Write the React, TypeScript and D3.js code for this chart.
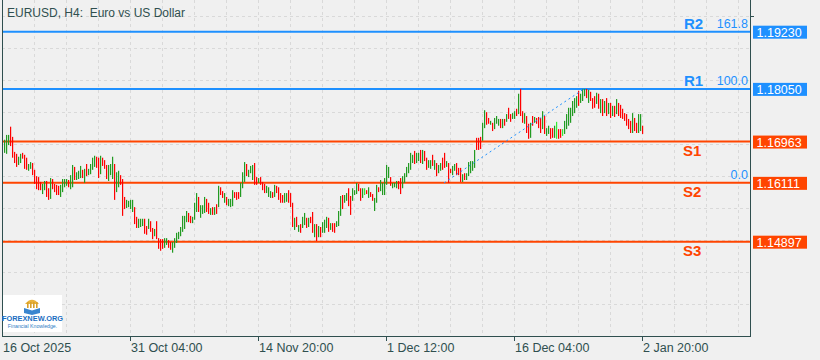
import React from 'react';
import * as d3 from 'd3';

// ---- data (EURUSD H4) ----
const highs = [
  1.1700, 1.1710, 1.1710, 1.1727, 1.1706, 1.1675, 1.1671, 1.1665, 1.1671, 1.1673,
  1.1669, 1.1663, 1.1650, 1.1654, 1.1652, 1.1638, 1.1625, 1.1623, 1.1613, 1.1609,
  1.1615, 1.1615, 1.1600, 1.1621, 1.1619, 1.1609, 1.1607, 1.1605, 1.1607, 1.1619,
  1.1619, 1.1619, 1.1617, 1.1627, 1.1648, 1.1644, 1.1633, 1.1636, 1.1646, 1.1638,
  1.1640, 1.1650, 1.1640, 1.1650, 1.1663, 1.1667, 1.1665, 1.1663, 1.1667, 1.1663,
  1.1658, 1.1648, 1.1648, 1.1650, 1.1665, 1.1650, 1.1633, 1.1636, 1.1627, 1.1619,
  1.1582, 1.1576, 1.1574, 1.1576, 1.1576, 1.1561, 1.1541, 1.1537, 1.1537, 1.1537,
  1.1537, 1.1522, 1.1537, 1.1532, 1.1518, 1.1516, 1.1532, 1.1497, 1.1495, 1.1495,
  1.1497, 1.1497, 1.1493, 1.1489, 1.1489, 1.1497, 1.1508, 1.1510, 1.1520, 1.1543,
  1.1543, 1.1553, 1.1549, 1.1543, 1.1541, 1.1570, 1.1590, 1.1582, 1.1565, 1.1565,
  1.1582, 1.1578, 1.1570, 1.1559, 1.1561, 1.1561, 1.1567, 1.1605, 1.1602, 1.1594,
  1.1590, 1.1582, 1.1578, 1.1578, 1.1596, 1.1592, 1.1592, 1.1592, 1.1611, 1.1633,
  1.1654, 1.1650, 1.1638, 1.1646, 1.1648, 1.1652, 1.1623, 1.1621, 1.1623, 1.1613,
  1.1609, 1.1605, 1.1602, 1.1594, 1.1592, 1.1607, 1.1605, 1.1602, 1.1590, 1.1586,
  1.1590, 1.1590, 1.1596, 1.1590, 1.1570, 1.1539, 1.1541, 1.1524, 1.1526, 1.1541,
  1.1549, 1.1539, 1.1539, 1.1541, 1.1551, 1.1526, 1.1526, 1.1522, 1.1520, 1.1530,
  1.1535, 1.1541, 1.1539, 1.1528, 1.1528, 1.1528, 1.1532, 1.1553, 1.1584, 1.1586,
  1.1586, 1.1590, 1.1600, 1.1584, 1.1600, 1.1596, 1.1611, 1.1609, 1.1600, 1.1600,
  1.1600, 1.1596, 1.1602, 1.1592, 1.1588, 1.1580, 1.1607, 1.1602, 1.1617, 1.1611,
  1.1621, 1.1648, 1.1644, 1.1623, 1.1611, 1.1611, 1.1615, 1.1615, 1.1621, 1.1625,
  1.1631, 1.1644, 1.1652, 1.1673, 1.1669, 1.1677, 1.1673, 1.1673, 1.1679, 1.1679,
  1.1677, 1.1663, 1.1658, 1.1658, 1.1669, 1.1658, 1.1652, 1.1648, 1.1652, 1.1663,
  1.1673, 1.1656, 1.1652, 1.1640, 1.1646, 1.1650, 1.1652, 1.1642, 1.1642, 1.1629,
  1.1631, 1.1631, 1.1654, 1.1656, 1.1656, 1.1679, 1.1704, 1.1704, 1.1706, 1.1735,
  1.1761, 1.1757, 1.1745, 1.1739, 1.1735, 1.1745, 1.1749, 1.1743, 1.1743, 1.1743,
  1.1743, 1.1753, 1.1766, 1.1753, 1.1755, 1.1759, 1.1764, 1.1795, 1.1805, 1.1759,
  1.1755, 1.1749, 1.1733, 1.1735, 1.1749, 1.1747, 1.1745, 1.1747, 1.1745, 1.1759,
  1.1749, 1.1724, 1.1729, 1.1724, 1.1724, 1.1729, 1.1737, 1.1722, 1.1722, 1.1722,
  1.1739, 1.1753, 1.1766, 1.1766, 1.1780, 1.1786, 1.1790, 1.1801, 1.1795, 1.1805,
  1.1805, 1.1805, 1.1803, 1.1799, 1.1786, 1.1790, 1.1797, 1.1795, 1.1784, 1.1784,
  1.1780, 1.1786, 1.1776, 1.1776, 1.1770, 1.1770, 1.1784, 1.1776, 1.1772, 1.1764,
  1.1755, 1.1753, 1.1743, 1.1739, 1.1755, 1.1745, 1.1735, 1.1753, 1.1753, 1.1729,
];

const lows = [
  1.1673, 1.1671, 1.1689, 1.1687, 1.1663, 1.1652, 1.1644, 1.1648, 1.1652, 1.1661,
  1.1640, 1.1638, 1.1636, 1.1640, 1.1627, 1.1609, 1.1598, 1.1596, 1.1596, 1.1588,
  1.1596, 1.1582, 1.1576, 1.1578, 1.1598, 1.1592, 1.1586, 1.1586, 1.1582, 1.1592,
  1.1602, 1.1605, 1.1602, 1.1598, 1.1602, 1.1617, 1.1617, 1.1619, 1.1621, 1.1621,
  1.1611, 1.1625, 1.1627, 1.1629, 1.1638, 1.1644, 1.1642, 1.1621, 1.1629, 1.1646,
  1.1640, 1.1619, 1.1615, 1.1627, 1.1619, 1.1576, 1.1592, 1.1602, 1.1607, 1.1543,
  1.1557, 1.1559, 1.1561, 1.1557, 1.1551, 1.1526, 1.1518, 1.1518, 1.1520, 1.1522,
  1.1506, 1.1504, 1.1516, 1.1510, 1.1495, 1.1501, 1.1495, 1.1475, 1.1471, 1.1475,
  1.1477, 1.1483, 1.1477, 1.1473, 1.1467, 1.1477, 1.1487, 1.1495, 1.1501, 1.1510,
  1.1516, 1.1530, 1.1530, 1.1528, 1.1528, 1.1535, 1.1551, 1.1551, 1.1539, 1.1547,
  1.1549, 1.1551, 1.1547, 1.1545, 1.1545, 1.1545, 1.1547, 1.1561, 1.1586, 1.1580,
  1.1570, 1.1565, 1.1563, 1.1561, 1.1563, 1.1580, 1.1576, 1.1578, 1.1582, 1.1600,
  1.1613, 1.1625, 1.1623, 1.1631, 1.1617, 1.1607, 1.1607, 1.1611, 1.1607, 1.1596,
  1.1590, 1.1590, 1.1582, 1.1580, 1.1580, 1.1582, 1.1590, 1.1576, 1.1570, 1.1570,
  1.1570, 1.1572, 1.1570, 1.1561, 1.1520, 1.1514, 1.1520, 1.1510, 1.1508, 1.1518,
  1.1524, 1.1518, 1.1520, 1.1528, 1.1508, 1.1499, 1.1491, 1.1499, 1.1499, 1.1508,
  1.1508, 1.1518, 1.1510, 1.1514, 1.1510, 1.1508, 1.1520, 1.1522, 1.1543, 1.1557,
  1.1570, 1.1574, 1.1563, 1.1545, 1.1574, 1.1586, 1.1588, 1.1594, 1.1574, 1.1580,
  1.1586, 1.1588, 1.1580, 1.1582, 1.1574, 1.1553, 1.1570, 1.1592, 1.1594, 1.1586,
  1.1586, 1.1607, 1.1621, 1.1605, 1.1600, 1.1602, 1.1600, 1.1598, 1.1588, 1.1600,
  1.1611, 1.1623, 1.1631, 1.1638, 1.1652, 1.1650, 1.1652, 1.1656, 1.1652, 1.1650,
  1.1656, 1.1638, 1.1642, 1.1640, 1.1646, 1.1638, 1.1625, 1.1631, 1.1636, 1.1638,
  1.1642, 1.1644, 1.1611, 1.1631, 1.1627, 1.1636, 1.1627, 1.1627, 1.1613, 1.1613,
  1.1617, 1.1617, 1.1625, 1.1631, 1.1636, 1.1642, 1.1679, 1.1679, 1.1681, 1.1698,
  1.1724, 1.1731, 1.1733, 1.1731, 1.1718, 1.1722, 1.1733, 1.1729, 1.1724, 1.1724,
  1.1729, 1.1737, 1.1743, 1.1737, 1.1743, 1.1743, 1.1749, 1.1753, 1.1749, 1.1735,
  1.1733, 1.1714, 1.1702, 1.1704, 1.1729, 1.1735, 1.1733, 1.1724, 1.1714, 1.1722,
  1.1712, 1.1708, 1.1712, 1.1702, 1.1704, 1.1704, 1.1702, 1.1702, 1.1704, 1.1708,
  1.1712, 1.1722, 1.1729, 1.1735, 1.1749, 1.1755, 1.1766, 1.1770, 1.1776, 1.1780,
  1.1790, 1.1786, 1.1776, 1.1780, 1.1764, 1.1766, 1.1774, 1.1764, 1.1755, 1.1749,
  1.1755, 1.1749, 1.1753, 1.1745, 1.1749, 1.1747, 1.1753, 1.1749, 1.1745, 1.1743,
  1.1739, 1.1729, 1.1722, 1.1714, 1.1714, 1.1718, 1.1714, 1.1714, 1.1718, 1.1712,
];

// u = bull bar, d = bear bar, L = highlighted bull bar
const directions = (
  'uuudddduud' + 'dduudddddu' + 'uddudddduu' + 'uuduuduuud' + 'uduuuuddud' +
  'dduuuduudd' + 'duuuudduuu' + 'dduddudddd' + 'uudduuuuuu' + 'uudduuuduu' +
  'uddudududd' + 'uduuuddduu' + 'uduuuddudd' + 'duuududddd' + 'uudddududu' +
  'ududdududu' + 'uududduuud' + 'uudduuuddu' + 'Ldudduuduu' + 'uuuduuuddu' +
  'uuuuuduudu' + 'dduududuud' + 'dudduudddu' + 'duuuuudddu' + 'udduduuudu' +
  'dudduududd' + 'uddududddu' + 'duudduLddL' + 'uuuuuuuduu' + 'ududddudud' +
  'ududududdd' + 'ddddudduud'
).split('');

const levelNames = ['R2', 'R1', 'S1', 'S2', 'S3'];
const levelPrices = [1.19230, 1.18050, 1.16963, 1.16111, 1.14897];
const levelLabels = ['1.19230', '1.18050', '1.16963', '1.16111', '1.14897'];
const fibLabels = ['161.8', '100.0', '0.0'];
const fibPrices = [1.19230, 1.18050, 1.16111];
const fibAnchorBars = [220, 290];
const fibAnchorPrices = [1.16111, 1.18050];

const timeLabels = ['16 Oct 2025', '31 Oct 04:00', '14 Nov 20:00', '1 Dec 12:00', '16 Dec 04:00', '2 Jan 20:00'];
const timeLabelBars = [-1, 63, 127, 191, 255, 319];

const W = 820;
const H = 360;
const LEFT = 2;
const RIGHT = 750;
const BOTTOM = 336;

const BLUE = '#1E90FF';
const ORANGE = '#FF4500';
const AXIS = '#2F4F4F';
const FONT = '"Liberation Sans", Arial, sans-serif';

export default function App() {
  const x = d3.scaleLinear().domain([-1, 373]).range([LEFT, RIGHT]);
  const y = d3.scaleLinear().domain([1.12951, 1.19884]).range([BOTTOM, 0]);

  const gridX = d3.range(15, 373, 16).map((i) => x(i)).filter((v) => v < RIGHT - 2);
  const gridY = d3.range(16, BOTTOM, 32);

  const colorOf = (d: string) => (d === 'u' ? '#229A22' : d === 'L' ? '#33EE33' : '#FF0000');

  const fibLine = d3.line<number>()
    .x((_, k) => x(fibAnchorBars[k]))
    .y((p) => y(p))(fibAnchorPrices) as string;

  return (
    <svg
      width={W}
      height={H}
      style={{ position: 'absolute', left: 0, top: 0, background: '#F0F0F0' }}
      fontFamily={FONT}
    >
      <rect x={0} y={0} width={W} height={H} fill="#F0F0F0" />

      {/* grid */}
      <g stroke="#D9D9D9" strokeWidth={1} strokeDasharray="3,3">
        {gridX.map((gx, k) => (
          <line key={'gx' + k} x1={Math.round(gx) + 0.5} x2={Math.round(gx) + 0.5} y1={0} y2={BOTTOM} />
        ))}
        {gridY.map((gy, k) => (
          <line key={'gy' + k} x1={LEFT} x2={RIGHT} y1={gy + 0.5} y2={gy + 0.5} />
        ))}
      </g>

      {/* title */}
      <text x={7} y={16.5} fontSize={12} fill={AXIS} style={{ whiteSpace: 'pre' }}>
        {'EURUSD, H4:  Euro vs US Dollar'}
      </text>

      {/* level lines */}
      {levelPrices.map((p, k) => (
        <line
          key={'lv' + k}
          x1={LEFT}
          x2={RIGHT}
          y1={y(p)}
          y2={y(p)}
          stroke={levelNames[k].startsWith('R') ? BLUE : ORANGE}
          strokeWidth={2}
        />
      ))}

      {/* bars */}
      <g>
        {highs.map((h, i) => {
          const top = y(h);
          const bot = y(lows[i]);
          return (
            <rect
              key={'b' + i}
              x={x(i)}
              y={top}
              width={1.2}
              height={Math.max(1, bot - top)}
              fill={colorOf(directions[i])}
            />
          );
        })}
      </g>

      {/* fibo trend line */}
      <path d={fibLine} stroke={BLUE} strokeWidth={1} strokeDasharray="2,3" fill="none" />

      {/* level names */}
      {levelPrices.map((p, k) => {
        const isR = levelNames[k].startsWith('R');
        return (
          <text
            key={'ln' + k}
            x={isR ? 684 : 683}
            y={isR ? y(p) - 3 : y(p) + 14.5}
            fontSize={15}
            fontWeight="bold"
            fill={isR ? BLUE : ORANGE}
          >
            {levelNames[k]}
          </text>
        );
      })}

      {/* fib level labels */}
      {fibPrices.map((p, k) => (
        <text key={'fl' + k} x={748} y={y(p) - 3.5} fontSize={12.5} fill={BLUE} textAnchor="end">
          {fibLabels[k]}
        </text>
      ))}

      {/* frame */}
      <g stroke={AXIS} strokeWidth={1} fill="none">
        <line x1={LEFT + 0.5} x2={LEFT + 0.5} y1={0} y2={BOTTOM + 1} />
        <line x1={RIGHT + 0.5} x2={RIGHT + 0.5} y1={0} y2={BOTTOM + 1} />
        <line x1={LEFT} x2={RIGHT + 1} y1={BOTTOM + 0.5} y2={BOTTOM + 0.5} />
        <line x1={RIGHT} x2={RIGHT + 4} y1={16.5} y2={16.5} />
        {timeLabelBars.slice(1).map((b, k) => (
          <line key={'tk' + k} x1={Math.round(x(b)) + 0.5} x2={Math.round(x(b)) + 0.5} y1={BOTTOM} y2={BOTTOM + 5} />
        ))}
      </g>

      {/* time labels */}
      {timeLabels.map((t, k) => (
        <text key={'tl' + k} x={Math.round(x(timeLabelBars[k])) + 1} y={352} fontSize={12.5} fill={AXIS}>
          {t}
        </text>
      ))}

      {/* price boxes */}
      {levelPrices.map((p, k) => {
        const col = levelNames[k].startsWith('R') ? BLUE : ORANGE;
        const ly = y(p);
        return (
          <g key={'pb' + k}>
            <rect x={753} y={ly - 6} width={54} height={13} fill={col} />
            <text x={756.5} y={ly + 5} fontSize={12.5} fill="#FFFFFF">{levelLabels[k]}</text>
          </g>
        );
      })}

      {/* logo */}
      <g>
        <rect x={3} y={295} width={59} height={37} fill="#FFFFFF" />
        <path d="M25,304 Q32,295.5 39,304 Z" fill="#E9B23A" />
        {[27, 30, 33, 36].map((cx) => (
          <rect key={'col' + cx} x={cx} y={302} width={1.6} height={6} fill="#D9A12A" />
        ))}
        <path d="M24,308 L32,310.5 L40,308 L40,313 L32,315 L24,313 Z" fill="#3A86CF" />
        <text x={32.5} y={321} fontSize={7.4} fontWeight="bold" fill="#1B6FC2" textAnchor="middle">FOREXNEW.ORG</text>
        <text x={32.5} y={327.5} fontSize={5.2} fill="#2D7CC4" textAnchor="middle">Financial Knowledge.</text>
      </g>
    </svg>
  );
}
